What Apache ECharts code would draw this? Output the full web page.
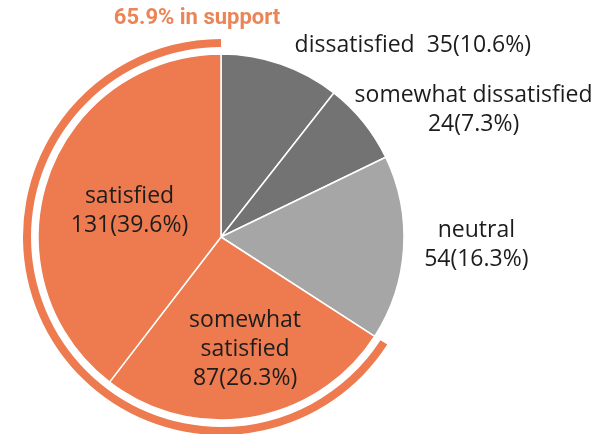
<!DOCTYPE html>
<html>
<head>
<meta charset="utf-8">
<script src="https://cdn.jsdelivr.net/npm/echarts@6/dist/echarts.min.js"></script>
<style>
  html, body { margin: 0; padding: 0; background: #ffffff; }
  #chart { width: 595px; height: 434px; }
</style>
</head>
<body>
<div id="chart"></div>
<script>
// Survey responses, clockwise from 12 o'clock
const categories = ['dissatisfied', 'somewhat dissatisfied', 'neutral', 'somewhat satisfied', 'satisfied'];
const counts = [35, 24, 54, 87, 131];
// How each category's name is broken onto lines in its label
const labelNames = ['dissatisfied', 'somewhat dissatisfied', 'neutral', 'somewhat\nsatisfied', 'satisfied'];
const labelJoin = ['  ', '\n', '\n', '\n', '\n'];
// Categories counted as support
const supportCategories = ['somewhat satisfied', 'satisfied'];

const ORANGE = '#ED7B4F';
const DARK_GRAY = '#737373';
const LIGHT_GRAY = '#A6A6A6';
const sliceColors = [DARK_GRAY, DARK_GRAY, LIGHT_GRAY, ORANGE, ORANGE];

const total = counts.reduce((a, b) => a + b, 0);
const support = categories.reduce((s, c, i) => s + (supportCategories.includes(c) ? counts[i] : 0), 0);
const supportPct = (support / total * 100).toFixed(1);

// Label nudges from the default inside position
const labelShift = [[161, -102], [179, -68], [161, 2], [8, 19], [-2, 4]];

const center = [221, 237];

const chart = echarts.init(document.getElementById('chart'), null, { renderer: 'canvas' });
chart.setOption({
  animation: false,
  title: {
    text: supportPct + '% in support',
    left: 192,
    top: 2,
    textAlign: 'center',
    textStyle: {
      color: '#EB8457',
      fontFamily: 'Roboto',
      fontWeight: 'bold',
      fontSize: 22
    }
  },
  series: [
    {
      type: 'pie',
      center: center,
      radius: [0, 183],
      startAngle: 90,
      clockwise: true,
      avoidLabelOverlap: false,
      silent: true,
      itemStyle: { borderColor: '#ffffff', borderWidth: 1.5 },
      label: {
        show: true,
        position: 'inside',
        color: '#1c1c1c',
        fontFamily: 'Open Sans',
        fontSize: 23,
        lineHeight: 29,
        formatter: (p) => labelNames[p.dataIndex] + labelJoin[p.dataIndex] +
          p.value + '(' + (p.value / total * 100).toFixed(1) + '%)'
      },
      labelLine: { show: false },
      labelLayout: (p) => ({ dx: labelShift[p.dataIndex][0], dy: labelShift[p.dataIndex][1] }),
      data: categories.map((c, i) => ({
        name: c,
        value: counts[i],
        itemStyle: { color: sliceColors[i] }
      }))
    },
    {
      // Outer band marking the share in support
      type: 'pie',
      center: center,
      radius: [190, 198],
      startAngle: 90,
      clockwise: true,
      silent: true,
      label: { show: false },
      labelLine: { show: false },
      data: [
        { name: 'other', value: total - support, itemStyle: { color: 'rgba(0,0,0,0)' } },
        { name: 'support', value: support, itemStyle: { color: ORANGE } }
      ]
    }
  ]
});
</script>
</body>
</html>
